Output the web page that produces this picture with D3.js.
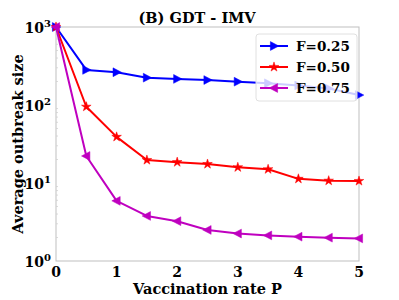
<!DOCTYPE html>
<html>
<head>
<meta charset="utf-8">
<script src="https://cdnjs.cloudflare.com/ajax/libs/d3/7.8.5/d3.min.js"></script>
<style>
  body { margin: 0; background: #fff; }
  svg text { font-family: "DejaVu Serif"; font-weight: 700; }
</style>
</head>
<body>
<script>
"use strict";

// vaccination rate P
const rates = [0, 0.5, 1, 1.5, 2, 2.5, 3, 3.5, 4, 4.5, 5];
// average outbreak size, one list per F
const f25 = [1000, 282, 263, 224, 216, 209, 199, 190, 178, 163, 134];
const f50 = [1000, 95, 39, 19.7, 18.5, 17.5, 15.9, 15.0, 11.3, 10.7, 10.6];
const f75 = [1000, 22.2, 5.9, 3.78, 3.24, 2.5, 2.25, 2.13, 2.05, 1.99, 1.95];
const seriesNames = ["F=0.25", "F=0.50", "F=0.75"];
const xTicks = [0, 1, 2, 3, 4, 5];
const yTicks = [1, 10, 100, 1000];

var width = 399, height = 300;
var margin = {top: 27, right: 40, bottom: 39, left: 56};

var svg = d3.select("body").append("svg")
    .attr("width", width)
    .attr("height", height);

var x = d3.scaleLinear().domain([0, 5]).range([margin.left, width - margin.right]);
var y = d3.scaleLog().domain([1, 1000]).range([height - margin.bottom, margin.top]);

var series = [
  {name: seriesNames[0], values: f25, color: "#0000ff", marker: "right"},
  {name: seriesNames[1], values: f50, color: "#ff0000", marker: "star"},
  {name: seriesNames[2], values: f75, color: "#bf00bf", marker: "left"}
];

// markers
function markerPath(type, s) {
  if (type === "right") return "M" + (-s*0.45) + "," + (-s*0.55) + "L" + (s*0.6) + ",0L" + (-s*0.45) + "," + (s*0.55) + "Z";
  if (type === "left") return "M" + (s*0.45) + "," + (-s*0.55) + "L" + (-s*0.6) + ",0L" + (s*0.45) + "," + (s*0.55) + "Z";
  return d3.symbol().type(d3.symbolStar).size(s * s * 0.45)();
}

// frame
var plot = svg.append("g");
plot.append("rect")
    .attr("x", x(0)).attr("y", y(1000))
    .attr("width", x(5) - x(0)).attr("height", y(1) - y(1000))
    .attr("fill", "none").attr("stroke", "#bfbfbf").attr("stroke-width", 1);

// minor ticks on log axis
var minor = [];
[1, 10, 100].forEach(function(b) { for (var k = 2; k < 10; k++) minor.push(b * k); });
plot.selectAll(".minor").data(minor).enter().append("line")
    .attr("x1", x(0)).attr("x2", x(0) + 2)
    .attr("y1", function(d) { return y(d); }).attr("y2", function(d) { return y(d); })
    .attr("stroke", "#d0d0d0").attr("stroke-width", 0.8);

var line = d3.line()
    .x(function(d, i) { return x(rates[i]); })
    .y(function(d) { return y(d); });

series.forEach(function(s) {
  var g = plot.append("g");
  g.append("path")
      .datum(s.values)
      .attr("d", line)
      .attr("fill", "none")
      .attr("stroke", s.color)
      .attr("stroke-width", 2)
      .attr("stroke-linejoin", "round");
  g.selectAll("path.m").data(s.values).enter().append("path")
      .attr("class", "m")
      .attr("transform", function(d, i) { return "translate(" + x(rates[i]) + "," + y(d) + ")"; })
      .attr("d", markerPath(s.marker, 8))
      .attr("fill", s.color)
      .attr("stroke", s.color)
      .attr("stroke-width", 0.5);
});

// x tick labels
svg.selectAll(".xt").data(xTicks).enter().append("text")
    .attr("x", function(d) { return x(d); })
    .attr("y", height - margin.bottom + 16)
    .attr("text-anchor", "middle")
    .style("font-size", "14px")
    .text(function(d) { return d; });

// y tick labels 10^n
var yt = svg.selectAll(".yt").data(yTicks).enter().append("text")
    .attr("x", margin.left - 5)
    .attr("y", function(d) { return y(d) + 6; })
    .attr("text-anchor", "end")
    .style("font-size", "14px");
yt.append("tspan").text("10");
yt.append("tspan").attr("dy", -6).style("font-size", "10px")
    .text(function(d) { return Math.round(Math.log10(d)); });

// axis titles
svg.append("text")
    .attr("x", (x(0) + x(5)) / 2)
    .attr("y", 294)
    .attr("text-anchor", "middle")
    .style("font-size", "14.5px")
    .text("Vaccination rate P");

svg.append("text")
    .attr("transform", "translate(23," + ((y(1) + y(1000)) / 2) + ") rotate(-90)")
    .attr("text-anchor", "middle")
    .style("font-size", "14.5px")
    .text("Average outbreak size");

svg.append("text")
    .attr("x", 197)
    .attr("y", 23)
    .attr("text-anchor", "middle")
    .style("font-size", "14.5px")
    .text("(B) GDT - IMV");

// legend
var lg = svg.append("g").attr("transform", "translate(256,34)");
lg.append("rect")
    .attr("width", 101).attr("height", 67).attr("rx", 3)
    .attr("fill", "#fff").attr("fill-opacity", 0.8)
    .attr("stroke", "#e0e0e0").attr("stroke-width", 1);
series.forEach(function(s, i) {
  var row = lg.append("g").attr("transform", "translate(0," + (12 + i * 21) + ")");
  row.append("line").attr("x1", 4).attr("x2", 32)
      .attr("stroke", s.color).attr("stroke-width", 2);
  row.append("path").attr("transform", "translate(18,0)")
      .attr("d", markerPath(s.marker, 8))
      .attr("fill", s.color).attr("stroke", s.color).attr("stroke-width", 0.5);
  row.append("text").attr("x", 40).attr("y", 5)
      .style("font-size", "13.5px")
      .text(s.name);
});
</script>
</body>
</html>
